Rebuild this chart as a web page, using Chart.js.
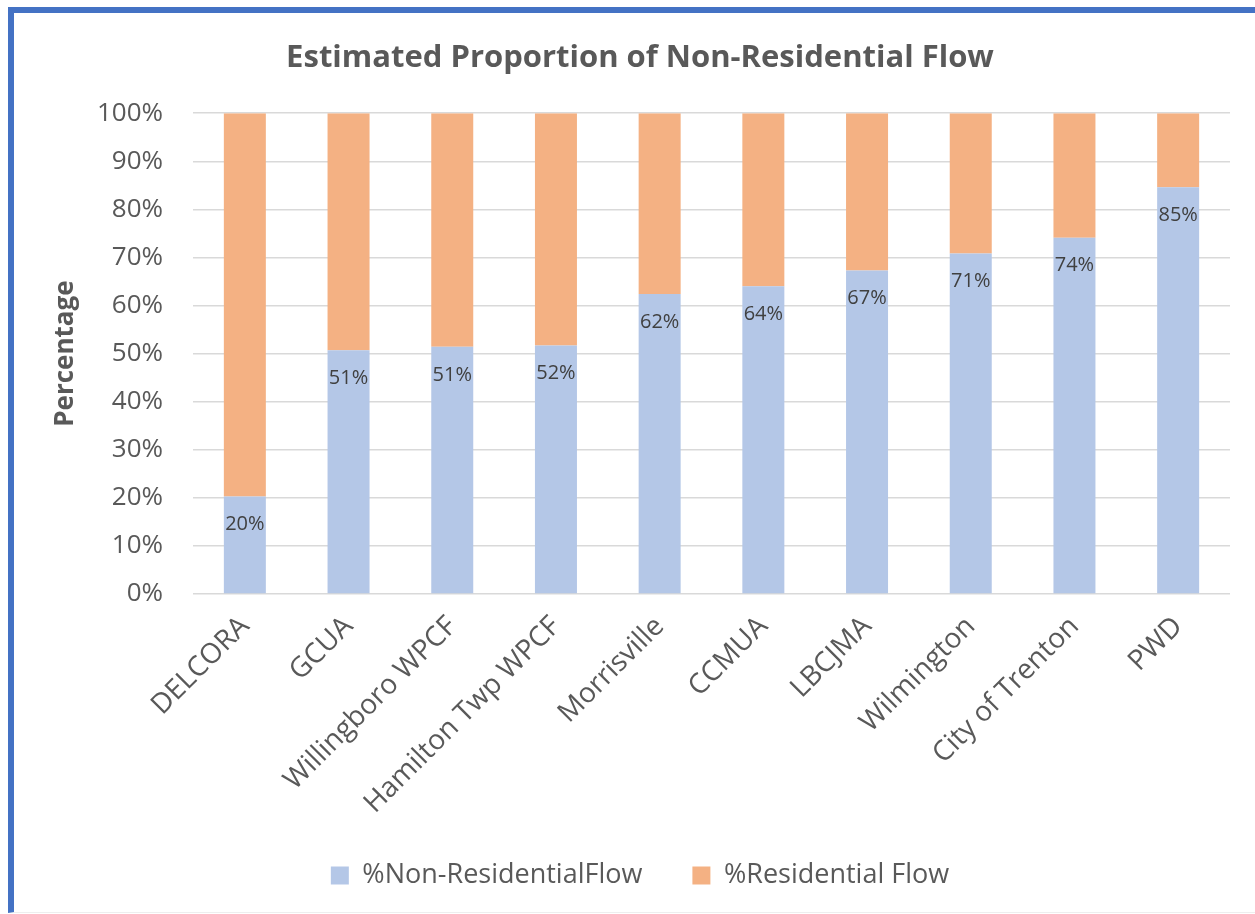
<!DOCTYPE html>
<html>
<head>
<meta charset="utf-8">
<script src="https://cdn.jsdelivr.net/npm/chart.js@4.4.1/dist/chart.umd.min.js"></script>
<style>
  body { margin: 0; background: #fff; }
  #frame {
    position: absolute; left: 8px; top: 7px; width: 1247px; height: 906px;
    border-left: 6px solid #4472C4; border-top: 6px solid #4472C4;
    border-bottom: 1px solid #eeeeee; box-sizing: border-box;
  }
  #chartArea { position: absolute; left: 14px; top: 13px; width: 1241px; height: 900px; }
</style>
</head>
<body>
<div id="frame"></div>
<div id="chartArea"><canvas id="chart1"></canvas></div>
<script>
const plants = ['DELCORA', 'GCUA', 'Willingboro WPCF', 'Hamilton Twp WPCF', 'Morrisville',
  'CCMUA', 'LBCJMA', 'Wilmington', 'City of Trenton', 'PWD'];
const nonResidential = [20.3, 50.7, 51.4, 51.7, 62.4, 64.0, 67.3, 70.8, 74.1, 84.6];
const residential = nonResidential.map((v) => 100 - v);

const fontFam = "'Open Sans', 'Noto Sans', sans-serif";
const grey = '#595959';

// draws the % labels inside the top of the blue bars
const barLabels = {
  id: 'barLabels',
  afterDatasetsDraw(chart) {
    const ctx = chart.ctx;
    const meta = chart.getDatasetMeta(0);
    ctx.save();
    ctx.font = '20px ' + fontFam;
    ctx.fillStyle = '#404040';
    ctx.textAlign = 'center';
    ctx.textBaseline = 'middle';
    meta.data.forEach((bar, i) => {
      ctx.fillText(Math.round(nonResidential[i]) + '%', bar.x, bar.y + 28);
    });
    ctx.restore();
  },
};

const ctx = document.getElementById('chart1').getContext('2d');
const chart1 = new Chart(ctx, {
  type: 'bar',
  data: {
    labels: plants,
    datasets: [
      {
        label: '%Non-ResidentialFlow',
        backgroundColor: '#B4C7E7',
        data: nonResidential,
      },
      {
        label: '%Residential Flow',
        backgroundColor: '#F4B183',
        data: residential,
      },
    ],
  },
  options: {
    responsive: true,
    maintainAspectRatio: false,
    animation: false,
    datasets: { bar: { categoryPercentage: 1, barPercentage: 0.405 } },
    layout: { padding: { left: 36, right: 25, top: 0, bottom: 14 } },
    plugins: {
      title: {
        display: true,
        text: 'Estimated Proportion of Non-Residential Flow',
        color: grey,
        font: { family: fontFam, size: 31, weight: 'bold' },
        padding: { top: 27, bottom: 36 },
      },
      legend: {
        position: 'bottom',
        labels: {
          color: grey,
          font: { family: fontFam, size: 27 },
          boxWidth: 18,
          boxHeight: 18,
          padding: 50,
        },
      },
      tooltip: { enabled: false },
    },
    scales: {
      x: {
        stacked: true,
        grid: { display: false },
        border: { display: false },
        afterFit: (scale) => { scale.height = 218; },
        ticks: {
          color: grey,
          font: { family: fontFam, size: 28 },
          maxRotation: 45,
          minRotation: 45,
          padding: 8,
        },
      },
      y: {
        stacked: true,
        min: 0,
        max: 100,
        grid: { color: '#D9D9D9', lineWidth: 1.5, drawTicks: false },
        border: { display: false },
        afterFit: (scale) => { scale.width = 143; },
        title: {
          display: true,
          text: 'Percentage',
          color: grey,
          font: { family: fontFam, size: 26, weight: 'bold' },
          padding: 0,
        },
        ticks: {
          stepSize: 10,
          color: grey,
          padding: 30,
          font: { family: fontFam, size: 26 },
          callback: (v) => v + '%',
        },
      },
    },
  },
  plugins: [barLabels],
});
</script>
</body>
</html>
